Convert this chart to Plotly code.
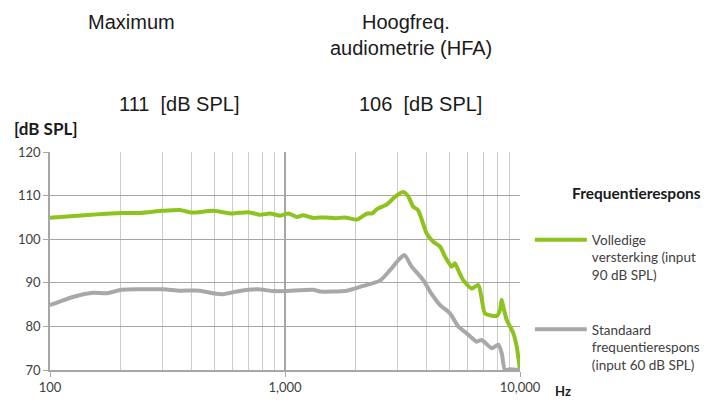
import plotly.graph_objects as go

# ---- data ----
freq_full = [100, 150, 202, 241, 300, 357, 401, 495, 593, 698, 783, 863, 952, 1033,
             1125, 1193, 1316, 1480, 1633, 1800, 2024, 2233, 2350, 2462, 2717, 2937,
             3178, 3337, 3516, 3681, 4008, 4277, 4571, 4798, 5120, 5286, 5460, 5736,
             6225, 6647, 6870, 7096, 7960, 8222, 8356, 8490, 8776, 9370, 9680, 10000]
db_full = [104.9, 105.6, 106.0, 106.0, 106.5, 106.7, 106.1, 106.5, 105.9, 106.2, 105.6,
           105.9, 105.4, 105.9, 105.1, 105.5, 104.9, 105.0, 104.8, 105.0, 104.5, 105.9,
           105.9, 106.9, 108.0, 109.7, 110.8, 109.9, 107.4, 106.7, 101.3, 99.4, 98.3,
           96.0, 93.7, 94.5, 92.9, 90.6, 88.7, 89.5, 86.4, 83.0, 82.4, 83.8, 86.1, 84.5,
           81.5, 78.4, 75.4, 70.0]

freq_std = [100, 110, 126, 153, 174, 202, 241, 303, 357, 435, 495, 546, 623, 758, 892,
            1000, 1319, 1409, 1832, 2154, 2536, 2798, 3035, 3220, 3460, 3877, 4141,
            4571, 5036, 5460, 5932, 6541, 6870, 7582, 8090, 8356, 8630, 9061, 10000]
db_std = [84.9, 85.7, 86.8, 87.7, 87.6, 88.4, 88.5, 88.5, 88.2, 88.2, 87.6, 87.4, 88.0,
          88.5, 88.1, 88.1, 88.4, 88.0, 88.2, 89.3, 90.5, 92.9, 95.2, 96.4, 93.7, 90.6,
          88.0, 84.9, 83.0, 80.0, 78.4, 76.5, 76.9, 75.0, 75.8, 73.9, 70.0, 70.2, 70.0]

name_full = "Volledige<br>versterking (input<br>90 dB SPL)"
name_std = "Standaard<br>frequentierespons<br>(input 60 dB SPL)"
legend_title = "Frequentierespons"
y_ticks = [70, 80, 90, 100, 110, 120]

GREEN = "#8dc21f"
GREY = "#a8a8a8"
FONT = "Lato"

fig = go.Figure()
fig.add_trace(go.Scatter(x=freq_full, y=db_full, mode="lines", name=name_full,
                         legendgroup="a",
                         line=dict(color=GREEN, width=4, shape="spline", smoothing=0.6)))
fig.add_trace(go.Scatter(x=freq_std, y=db_std, mode="lines", name=name_std,
                         legendgroup="b",
                         line=dict(color=GREY, width=4, shape="spline", smoothing=0.6)))

# the page body has an 8px margin, so the figure is 8px smaller on each side
fig.update_layout(
    width=705, height=394,
    margin=dict(l=42, r=193, t=144, b=32, autoexpand=False),
    paper_bgcolor="white", plot_bgcolor="white",
    font=dict(family=FONT, size=13, color="#404040"),
    legend=dict(x=1.021, y=0.668, xanchor="left", yanchor="top",
                font=dict(family=FONT, size=13.5, color="#404040"),
                valign="top", tracegroupgap=34, itemwidth=52,
                bgcolor="rgba(0,0,0,0)"),
    xaxis=dict(type="log", range=[2, 4], dtick=1, tickformat=",", automargin=False,
               showgrid=True, gridcolor="#a6a6a6", gridwidth=1.5,
               minor=dict(dtick="D1", showgrid=True, gridcolor="#cccccc", gridwidth=1),
               showline=True, linecolor="#a6a6a6", linewidth=1.5,
               ticks="outside", ticklen=5, tickcolor="#a6a6a6",
               tickfont=dict(family=FONT, size=13, color="#404040"),
               zeroline=False),
    yaxis=dict(range=[70, 120], tickvals=y_ticks, automargin=False,
               showgrid=True, gridcolor="#a6a6a6", gridwidth=1.2,
               showline=True, linecolor="#a6a6a6", linewidth=1.5,
               ticks="outside", ticklen=5, tickcolor="#a6a6a6",
               tickfont=dict(family=FONT, size=13, color="#404040"),
               zeroline=False),
)

# page pixel -> paper fraction (plot area spans x 50..520, y 152..370 on the page)
def px_x(px):
    return (px - 50) / 470.0

def px_y(py):
    return (370 - py) / 218.0

ann = []
top_font = dict(family="Liberation Sans", size=20, color="#1a1a1a")
for txt, cx, cy in [("Maximum", 131, 22), ("Hoogfreq.", 406, 22),
                    ("audiometrie (HFA)", 411, 48), ("111  [dB SPL]", 179, 104),
                    ("106  [dB SPL]", 420, 104)]:
    ann.append(dict(text=txt, x=px_x(cx), y=px_y(cy), xref="paper", yref="paper",
                    xanchor="center", yanchor="middle", showarrow=False, font=top_font))
ann.append(dict(text="<b>[dB SPL]</b>", x=px_x(12), y=px_y(128), xref="paper", yref="paper",
                xanchor="left", yanchor="middle", showarrow=False,
                font=dict(family=FONT, size=17, color="#1a1a1a")))
ann.append(dict(text="<b>Hz</b>", x=px_x(553), y=px_y(391), xref="paper", yref="paper",
                xanchor="left", yanchor="middle", showarrow=False,
                font=dict(family=FONT, size=13, color="#1a1a1a")))
ann.append(dict(text="<b>" + legend_title + "</b>", x=px_x(636), y=px_y(193),
                xref="paper", yref="paper", xanchor="center", yanchor="middle",
                showarrow=False, font=dict(family=FONT, size=15.5, color="#1a1a1a")))
fig.update_layout(annotations=ann)

fig.write_html("out.html")
